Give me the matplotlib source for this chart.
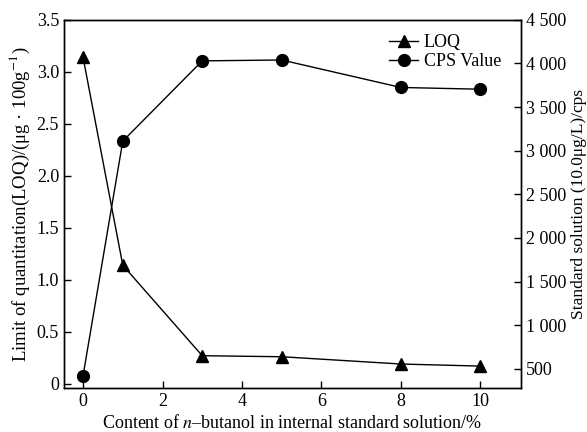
import matplotlib.pyplot as plt

plt.rcParams['font.family'] = ['Liberation Serif', 'DejaVu Serif']
plt.rcParams['mathtext.fontset'] = 'stix'

# data
content = [0, 1, 3, 5, 8, 10]
loq = [3.14, 1.14, 0.27, 0.26, 0.19, 0.17]
cps = [420, 3110, 4030, 4040, 3725, 3705]

left_ticks = [0, 0.5, 1.0, 1.5, 2.0, 2.5, 3.0, 3.5]
left_labels = ['0', '0.5', '1.0', '1.5', '2.0', '2.5', '3.0', '3.5']
right_ticks = [500, 1000, 1500, 2000, 2500, 3000, 3500, 4000, 4500]
right_labels = ['500', '1 000', '1 500', '2 000', '2 500', '3 000', '3 500', '4 000', '4 500']
x_ticks = [0, 2, 4, 6, 8, 10]

fig = plt.figure(figsize=(5.87, 4.32), dpi=100)
ax1 = fig.add_axes([0.109, 0.102, 0.779, 0.852])
ax2 = ax1.twinx()

l1, = ax1.plot(content, loq, color='black', linewidth=1, marker='^', markersize=8.5, label='LOQ')
l2, = ax2.plot(content, cps, color='black', linewidth=1, marker='o', markersize=8.5, label='CPS Value')

ax1.set_xlim(-0.48, 11.03)
ax1.set_ylim(-0.04, 3.5)
ax2.set_ylim(280, 4500)

ax1.set_xticks(x_ticks)
ax1.set_yticks(left_ticks)
ax1.set_yticklabels(left_labels)
ax2.set_yticks(right_ticks)
ax2.set_yticklabels(right_labels)

for ax in (ax1, ax2):
    ax.tick_params(direction='in', length=5, width=1, labelsize=13)
    for s in ax.spines.values():
        s.set_linewidth(1)

ax1.set_xlabel('Content of $n$\u2013butanol in internal standard solution/%', fontsize=13, labelpad=3)
ax1.set_ylabel('Limit of quantitation(LOQ)/(\u03bcg \u00b7 100g$^{-1}$)', fontsize=13.5, labelpad=3)
ax2.set_ylabel('Standard solution (10.0\u03bcg/L)/cps', fontsize=12.5, labelpad=3)

fig.legend(handles=[l1, l2], loc='upper left', bbox_to_anchor=(0.648, 0.942),
           frameon=False, fontsize=13, handlelength=1.6, handletextpad=0.3,
           labelspacing=0.1, borderpad=0)

plt.savefig('out.png', dpi=100)
